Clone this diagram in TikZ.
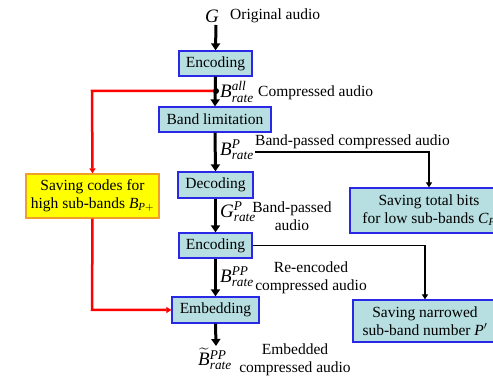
\documentclass[tikz,border=0pt]{standalone}
\usepackage{amsmath}
\usepackage{fontspec}
\setmainfont{Liberation Serif}
\usetikzlibrary{arrows.meta}
\definecolor{boxfill}{RGB}{183,222,225}
\definecolor{boxline}{RGB}{40,40,230}
\definecolor{ybox}{RGB}{255,255,0}
\definecolor{yline}{RGB}{240,160,40}
\newcommand{\ivar}[1]{\textit{#1}}
\tikzset{
  proc/.style={draw=boxline, line width=1.3pt, fill=boxfill, inner sep=0pt, align=center, font=\fontsize{15.5}{18}\selectfont},
  savebox/.style={proc, fill=ybox, draw=yline},
  lbl/.style={inner sep=0pt, align=center, font=\fontsize{15.5}{18}\selectfont},
  sym/.style={inner sep=0pt, font=\fontsize{19}{22}\selectfont},
  mainarrow/.style={line width=3pt, -{Triangle[length=7pt,width=9pt]}},
  thinarrow/.style={line width=1.8pt, -{Triangle[length=5pt,width=6pt]}},
  redarrow/.style={red, line width=2.5pt, -{Triangle[length=5pt,width=6pt]}},
}
\begin{document}
\begin{tikzpicture}[x=1pt,y=-1pt]
\useasboundingbox (0,0) rectangle (493,379);
% main nodes
\node[sym] (g) at (212,16) {$\ivar{G}$};
\node[lbl, anchor=west] (ga) at (230,16) {Original audio};
\node[proc, minimum width=73, minimum height=25] (enc1) at (215.5,63.5) {Encoding};
\node[proc, minimum width=112, minimum height=25] (bl) at (215,119.5) {Band limitation};
\node[proc, minimum width=75, minimum height=26] (dec) at (215.5,185) {Decoding};
\node[proc, minimum width=73, minimum height=25] (enc2) at (215.5,245.5) {Encoding};
\node[proc, minimum width=87, minimum height=26] (emb) at (215.5,310) {Embedding};
\node[savebox, minimum width=133, minimum height=44] (hi) at (92.5,196) {Saving codes for\\high sub-bands $\ivar{B}_{\ivar{P}+}$};
\node[proc, minimum width=158, minimum height=45] (ct) at (429,210.5) {Saving total bits\\for low sub-bands $\ivar{C}_{\ivar{P}}$};
\node[proc, minimum width=144, minimum height=42] (pn) at (425,321) {Saving narrowed\\sub-band number $\ivar{P}'$};
% labels
\node[sym, anchor=west] (lall) at (220,92) {$\ivar{B}^{\ivar{all}}_{\ivar{rate}}$};
\node[lbl, anchor=west] (tall) at (258,93) {Compressed audio};
\node[sym, anchor=west] (lp) at (220,150) {$\ivar{B}^{\ivar{P}}_{\ivar{rate}}$};
\node[lbl, anchor=west] (tp) at (255,142) {Band-passed compressed audio};
\node[sym, anchor=west] (lgp) at (220,212) {$\ivar{G}^{\ivar{P}}_{\ivar{rate}}$};
\node[lbl] (tgp) at (292,216) {Band-passed\\audio};
\node[sym, anchor=west] (lpp) at (220,277) {$\ivar{B}^{\ivar{PP}}_{\ivar{rate}}$};
\node[lbl] (tpp) at (311,278) {Re-encoded\\compressed audio};
\node[sym] (lemb) at (215,359) {$\widetilde{\ivar{B}}{}^{\ivar{PP}}_{\ivar{rate}}$};
\node[lbl] (temb) at (295,360) {Embedded\\compressed audio};
% coordinates
\coordinate (dot) at (216,91);
\coordinate (rc1) at (92,91);
\coordinate (rc2) at (92,310);
\coordinate (s1) at (255,152);
\coordinate (s1b) at (429,152);
\coordinate (s2b) at (425,245.5);
\coordinate (gbot) at (216,25);
\coordinate (embend) at (216,346);
% main arrows
\draw[mainarrow] (gbot) -- (enc1.north);
\draw[mainarrow] (enc1.south) -- (bl.north);
\draw[mainarrow] (bl.south) -- (dec.north);
\draw[mainarrow] (dec.south) -- (enc2.north);
\draw[mainarrow] (enc2.south) -- (emb.north);
\draw[mainarrow] (emb.south) -- (embend);
% side arrows
\draw[thinarrow] (s1) -- (s1b) -- (ct.north);
\draw[thinarrow] (enc2.east) -- (s2b) -- (pn.north);
% red
\draw[redarrow] (dot) -- (rc1) -- (hi.north);
\draw[redarrow] (hi.south) -- (rc2) -- (emb.west);
\fill (dot) circle (3pt);
\end{tikzpicture}
\end{document}
